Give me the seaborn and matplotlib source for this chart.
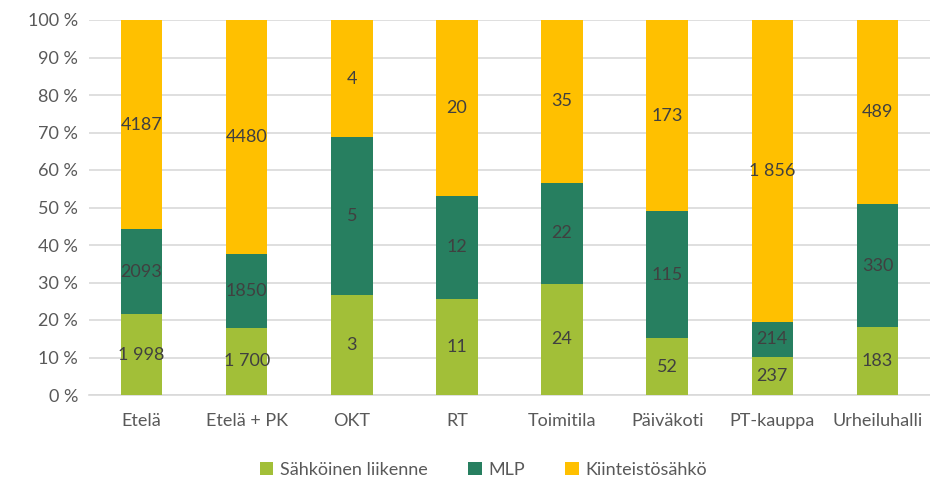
import matplotlib
matplotlib.use("Agg")
import matplotlib.pyplot as plt
import seaborn as sns
import numpy as np
import pandas as pd
from matplotlib.patches import Patch
from matplotlib.ticker import FuncFormatter

categories = ["Etelä", "Etelä + PK", "OKT", "RT", "Toimitila", "Päiväkoti", "PT-kauppa", "Urheiluhalli"]
series_names = ["Sähköinen liikenne", "MLP", "Kiinteistösähkö"]
# shares (%)
share_liikenne = [21.6, 17.9, 26.8, 25.5, 29.6, 15.2, 10.1, 18.1]
share_mlp = [22.6, 19.6, 42.0, 27.7, 27.0, 33.8, 9.4, 32.8]
share_kiinteisto = [100 - a - b for a, b in zip(share_liikenne, share_mlp)]
# data labels shown in the segments
labels_liikenne = ["1 998", "1 700", "3", "11", "24", "52", "237", "183"]
labels_mlp = ["2093", "1850", "5", "12", "22", "115", "214", "330"]
labels_kiinteisto = ["4187", "4480", "4", "20", "35", "173", "1 856", "489"]

colors = ["#A2BF38", "#277F60", "#FFC000"]

sns.set_theme(style="white")
plt.rcParams["font.family"] = ["Lato", "DejaVu Sans"]

df = pd.DataFrame({
    "cat": categories,
    "l": share_liikenne,
    "m": share_mlp,
    "k": share_kiinteisto,
})
df["top_lm"] = df["l"] + df["m"]
df["top_all"] = df["top_lm"] + df["k"]

fig = plt.figure(figsize=(9.30, 4.82), dpi=100)
ax = fig.add_axes([89 / 930, 1 - 395 / 482, 841 / 930, 375 / 482])

w = 0.395
sns.barplot(data=df, x="cat", y="top_all", color=colors[2], width=w, saturation=1, ax=ax, zorder=2, linewidth=0)
sns.barplot(data=df, x="cat", y="top_lm", color=colors[1], width=w, saturation=1, ax=ax, zorder=3, linewidth=0)
sns.barplot(data=df, x="cat", y="l", color=colors[0], width=w, saturation=1, ax=ax, zorder=4, linewidth=0)

# labels centered in segments
bottoms = [np.zeros(len(categories)), df["l"].values, df["top_lm"].values]
heights = [df["l"].values, df["m"].values, df["k"].values]
label_sets = [labels_liikenne, labels_mlp, labels_kiinteisto]
for bot, hgt, labs in zip(bottoms, heights, label_sets):
    for i, lab in enumerate(labs):
        ax.text(i, bot[i] + hgt[i] / 2, lab, ha="center", va="center",
                fontsize=13, color="#404040", zorder=6)

ax.set_ylim(0, 100)
ax.set_xlim(-0.5, len(categories) - 0.5)
ax.set_yticks(np.arange(0, 101, 10))
ax.yaxis.set_major_formatter(FuncFormatter(lambda v, p: f"{int(v)} %"))
ax.grid(axis="y", color="#D9D9D9", linewidth=1.2, zorder=0)
ax.set_axisbelow(True)
for s in ["top", "right", "left"]:
    ax.spines[s].set_visible(False)
ax.spines["bottom"].set_color("#D9D9D9")
ax.spines["bottom"].set_linewidth(1.2)
ax.set_xlabel("")
ax.set_ylabel("")
ax.tick_params(axis="both", length=0, labelsize=13, colors="#595959")
ax.tick_params(axis="x", pad=13)
ax.tick_params(axis="y", pad=8)

handles = [Patch(facecolor=c, edgecolor="none") for c in colors]
fig.legend(handles, series_names, loc="lower center", bbox_to_anchor=(0.52, -0.025),
           ncol=3, frameon=False, fontsize=13, labelcolor="#595959",
           handlelength=0.75, handleheight=0.75, handletextpad=0.4, columnspacing=2.2)

fig.savefig("out.png", dpi=100)
